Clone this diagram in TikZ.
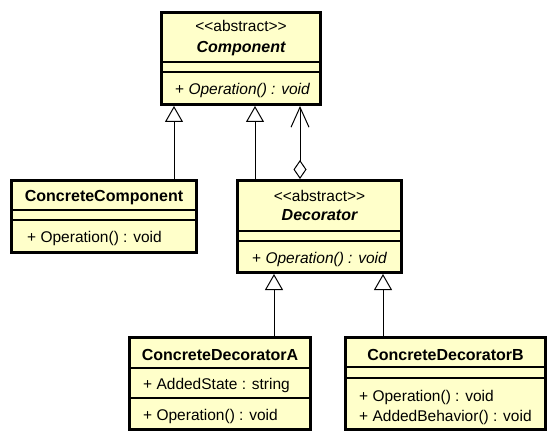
\documentclass[tikz,border=0pt]{standalone}
\usepackage{fontspec}
\setmainfont{Liberation Sans}
\usetikzlibrary{arrows.meta}
\definecolor{umlfill}{RGB}{255,255,202}
\newcommand{\stereo}[1]{<\kern0pt<#1>\kern0pt>}
\begin{document}
\begin{tikzpicture}[x=1pt,y=-1pt,
  cls/.style={draw=black, line width=3pt, fill=umlfill, rectangle, inner sep=0pt},
  sepline/.style={line width=1.3pt},
  txt/.style={inner sep=0pt, font=\fontsize{15.5}{18}\selectfont},
  ttl/.style={txt, anchor=base},
  bttl/.style={ttl, font=\fontsize{16}{18}\selectfont\bfseries},
  mbr/.style={txt, anchor=base west},
  inherit/.style={line width=1pt, -{Triangle[open, length=16pt, width=18pt, line width=1pt]}},
  aggr/.style={line width=1pt, {Diamond[open, length=19pt, width=13pt, line width=1pt]}-{Straight Barb[length=20pt, width=18pt, line width=1pt]}}
]
\useasboundingbox (0,0) rectangle (558,444);

% Component
\node[cls, minimum width=159pt, minimum height=92pt] (comp) at (241,58.5) {};
\draw[sepline] (comp.west |- 0,62) -- (comp.east |- 0,62);
\draw[sepline] (comp.west |- 0,72) -- (comp.east |- 0,72);
\node[ttl] (compst) at (241,32) {\stereo{abstract}};
\node[bttl] (compnm) at (241,53) {\itshape Component};
\node[mbr] (compop) at (175,95) {+ \itshape Operation() : void};

% ConcreteComponent
\node[cls, minimum width=185pt, minimum height=72pt] (cc) at (104,216.5) {};
\draw[sepline] (cc.west |- 0,210) -- (cc.east |- 0,210);
\draw[sepline] (cc.west |- 0,220) -- (cc.east |- 0,220);
\node[bttl] (ccnm) at (104,202) {ConcreteComponent};
\node[mbr] (ccop) at (27,243) {+ Operation() : void};

% Decorator
\node[cls, minimum width=164pt, minimum height=92pt] (dec) at (319.5,226.5) {};
\draw[sepline] (dec.west |- 0,231) -- (dec.east |- 0,231);
\draw[sepline] (dec.west |- 0,241) -- (dec.east |- 0,241);
\node[ttl] (decst) at (319.5,201) {\stereo{abstract}};
\node[bttl] (decnm) at (319.5,221) {\itshape Decorator};
\node[mbr] (decop) at (252,263) {+ \itshape Operation() : void};

% ConcreteDecoratorA
\node[cls, minimum width=181pt, minimum height=92pt] (cda) at (220,383.5) {};
\draw[sepline] (cda.west |- 0,368) -- (cda.east |- 0,368);
\draw[sepline] (cda.west |- 0,398) -- (cda.east |- 0,398);
\node[bttl] (cdanm) at (220,360) {ConcreteDecoratorA};
\node[mbr] (cdaat) at (143,389) {+ AddedState : string};
\node[mbr] (cdaop) at (143,420) {+ Operation() : void};

% ConcreteDecoratorB
\node[cls, minimum width=200pt, minimum height=92pt] (cdb) at (445.5,383.5) {};
\draw[sepline] (cdb.west |- 0,367) -- (cdb.east |- 0,367);
\draw[sepline] (cdb.west |- 0,378) -- (cdb.east |- 0,378);
\node[bttl] (cdbnm) at (445.5,360) {ConcreteDecoratorB};
\node[mbr] (cdbop) at (359,401) {+ Operation() : void};
\node[mbr] (cdbab) at (359,421) {+ AddedBehavior() : void};

% connector anchor points on the class borders
\coordinate (ccup) at (174,0);
\coordinate (decup) at (255,0);
\coordinate (aggx) at (300,0);
\coordinate (cdaup) at (274,0);
\coordinate (cdbup) at (383,0);

% generalisations
\draw[inherit] (ccup |- cc.north) -- (ccup |- comp.south);
\draw[inherit] (decup |- dec.north) -- (decup |- comp.south);
\draw[inherit] (cdaup |- cda.north) -- (cdaup |- dec.south);
\draw[inherit] (cdbup |- cdb.north) -- (cdbup |- dec.south);

% aggregation from Decorator to Component
\draw[aggr] (aggx |- dec.north) -- (aggx |- comp.south);
\end{tikzpicture}
\end{document}
